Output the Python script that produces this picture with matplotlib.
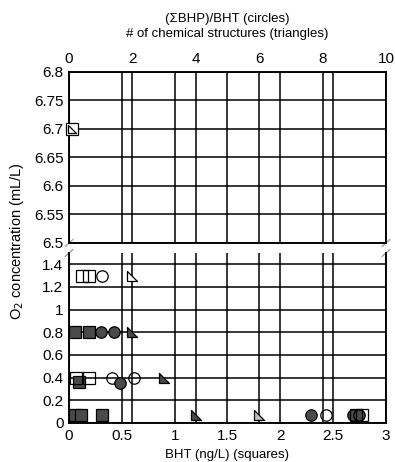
import matplotlib
matplotlib.use("Agg")
import matplotlib.pyplot as plt
from matplotlib.path import Path
from matplotlib.ticker import FuncFormatter

plt.rcParams['font.family'] = ['Liberation Sans', 'DejaVu Sans']

# ---------------- data ----------------
# squares: BHT (ng/L), bottom axis 0-3
sq_open_x = [0.12, 0.19, 0.07, 0.19, 2.72, 2.77]
sq_open_y = [1.3, 1.3, 0.4, 0.4, 0.07, 0.07]
sq_fill_x = [0.06, 0.19, 0.09, 0.06, 0.11, 0.31]
sq_fill_y = [0.8, 0.8, 0.36, 0.07, 0.07, 0.07]
sq_top_x = [0.03]
sq_top_y = [6.7]

# circles: (sum BHP)/BHT, top axis 0-10
ci_open_x = [1.04, 1.36, 2.05, 8.1]
ci_open_y = [1.3, 0.4, 0.4, 0.07]
ci_fill_x = [1.0, 1.42, 1.6, 7.63, 8.95, 9.15]
ci_fill_y = [0.8, 0.8, 0.35, 0.07, 0.07, 0.07]

# triangles: # of chemical structures, top axis 0-10
tr_open_x = [2.0]
tr_open_y = [1.3]
tr_dark_x = [2.0, 3.0, 4.0]
tr_dark_y = [0.8, 0.4, 0.07]
tr_light_x = [6.0]
tr_light_y = [0.07]
tr_top_x = [0.1]
tr_top_y = [6.7]

bot_xticks = [0, 0.5, 1, 1.5, 2, 2.5, 3]
top_xticks = [0, 2, 4, 6, 8, 10]
hi_yticks = [6.5, 6.55, 6.6, 6.65, 6.7, 6.75, 6.8]
lo_yticks = [0, 0.2, 0.4, 0.6, 0.8, 1.0, 1.2, 1.4]

# ---------------- figure ----------------
W, H = 395, 462
fig = plt.figure(figsize=(W / 100, H / 100), dpi=100)

L = 69 / W
Wd = (386 - 69) / W
ax_hi = fig.add_axes([L, 1 - 243 / H, Wd, (243 - 72) / H])
ax_lo = fig.add_axes([L, 1 - 423 / H, Wd, (423 - 253) / H])

tri = Path([(-1, 1), (-1, -1), (1, -1), (-1, 1)],
           [Path.MOVETO, Path.LINETO, Path.LINETO, Path.CLOSEPOLY])

dark = '#4a4a4a'
light = '#bdbdbd'
ms = 8.2
fmt = FuncFormatter(lambda v, p: ('%g' % v))

twins = []
for ax, ylim, yt in [(ax_hi, (6.5, 6.8), hi_yticks), (ax_lo, (0, 1.5), lo_yticks)]:
    ax.set_xlim(0, 3)
    ax.set_ylim(*ylim)
    ax.set_xticks(bot_xticks)
    ax.set_yticks(yt)
    ax.yaxis.set_major_formatter(fmt)
    ax.xaxis.set_major_formatter(fmt)
    ax.grid(True, color='black', lw=1.1)
    ax.set_axisbelow(True)
    ax.tick_params(length=0, labelsize=11, pad=4)
    t = ax.twiny()
    t.set_xlim(0, 10)
    t.set_xticks(top_xticks)
    t.grid(True, axis='x', color='black', lw=1.1)
    t.tick_params(length=0, labelsize=11, pad=4)
    for s in ax.spines.values():
        s.set_linewidth(1.1)
    for s in t.spines.values():
        s.set_linewidth(1.1)
    twins.append(t)

t_hi, t_lo = twins
ax_hi.tick_params(axis='x', labelbottom=False)
t_lo.tick_params(axis='x', labeltop=False)
ax_lo.spines['top'].set_visible(False)
t_lo.spines['top'].set_visible(False)

# ---------------- markers ----------------
def squares(tw, ax, x, y, fill):
    tw.plot(x, y, ls='none', marker='s', ms=ms, mfc=fill, mec='black',
            mew=0.9, transform=ax.transData, clip_on=False, zorder=5)

t_lo.plot(ci_open_x, ci_open_y, ls='none', marker='o', ms=ms, mfc='none',
          mec='black', mew=0.9, zorder=4)
squares(t_lo, ax_lo, sq_fill_x, sq_fill_y, dark)
t_lo.plot(ci_fill_x, ci_fill_y, ls='none', marker='o', ms=ms, mfc=dark,
          mec='black', mew=0.9, zorder=5)
squares(t_lo, ax_lo, sq_open_x, sq_open_y, 'none')
t_lo.plot(tr_open_x, tr_open_y, ls='none', marker=tri, ms=7.5, mfc='white',
          mec='black', mew=0.9, zorder=6)
t_lo.plot(tr_dark_x, tr_dark_y, ls='none', marker=tri, ms=7.5, mfc=dark,
          mec='black', mew=0.9, zorder=6)
t_lo.plot(tr_light_x, tr_light_y, ls='none', marker=tri, ms=7.5, mfc=light,
          mec='black', mew=0.9, zorder=6)

squares(t_hi, ax_hi, sq_top_x, sq_top_y, 'white')
t_hi.plot(tr_top_x, tr_top_y, ls='none', marker=tri, ms=6, mfc='none',
          mec='black', mew=0.9, zorder=6, clip_on=False)

# ---------------- break marks ----------------
for ax in (ax_hi, ax_lo):
    y0 = 0 if ax is ax_hi else 1
    dx, dy = 0.012, 0.02
    for xx in (0, 1):
        ax.plot([xx - dx, xx + dx], [y0 - dy, y0 + dy], transform=ax.transAxes,
                color='#999999', lw=0.9, clip_on=False)

# ---------------- labels ----------------
cx = (69 + 386) / 2 / W
fig.text(cx, 1 - 19 / H, '(ΣBHP)/BHT (circles)', ha='center', va='center', fontsize=9.5)
fig.text(cx, 1 - 34 / H, '# of chemical structures (triangles)', ha='center', va='center', fontsize=9.5)
fig.text(cx, 1 - 455 / H, 'BHT (ng/L) (squares)', ha='center', va='center', fontsize=9.5)
fig.text(17 / W, 1 - 241 / H, 'O$_2$ concentration (mL/L)', ha='center', va='center',
         rotation=90, fontsize=10.5)

fig.savefig('out.png', dpi=100)
